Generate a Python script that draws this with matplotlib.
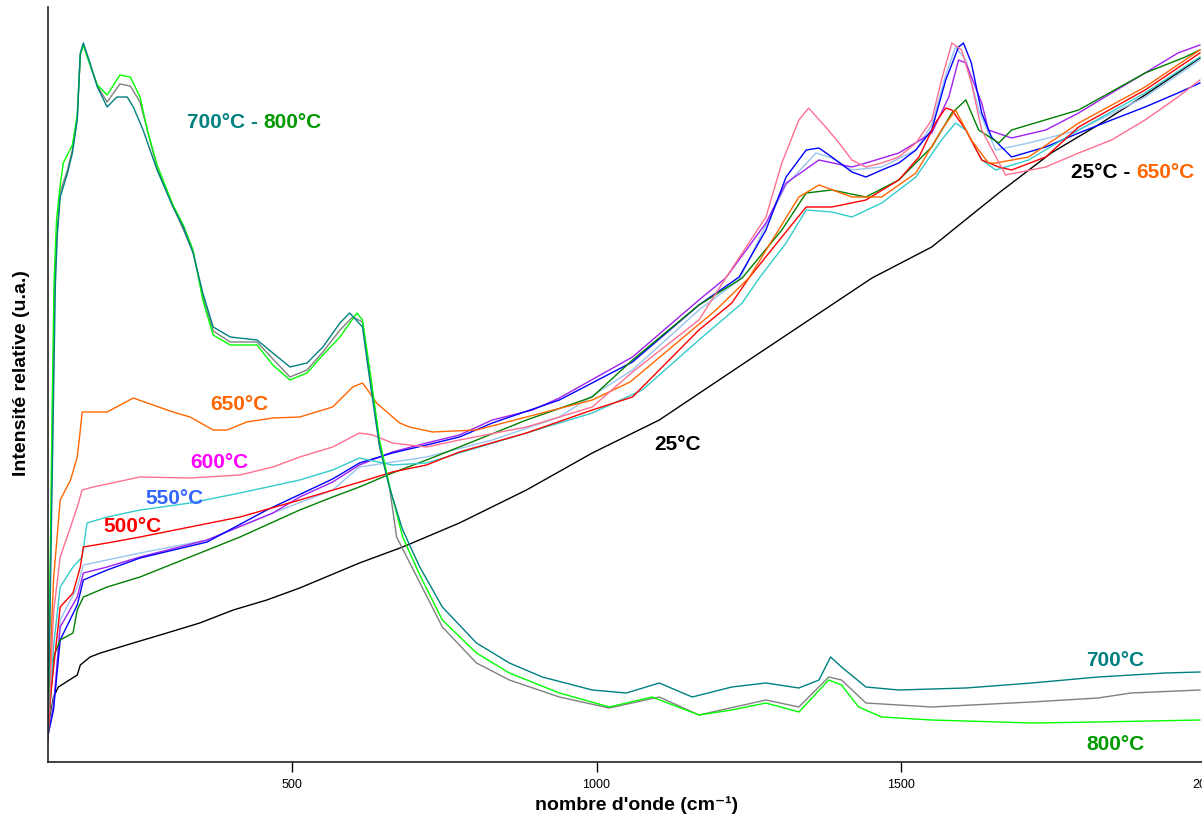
import matplotlib
matplotlib.use("Agg")
import matplotlib.pyplot as plt

plt.rcParams['font.family'] = ['Liberation Sans', 'DejaVu Sans']

# ---------------- data (wavenumber cm-1, relative intensity a.u.) ----------------
wn_25 = [100,109,117,148,153,169,186,240,295,349,404,459,513,611,682,775,885,993,1103,1250,1452,1550,1660,1746,1823,1900,1990]
I_25 = [32,65,75,87,97,105,109,119,129,139,152,162,174,199,215,239,272,309,342,402,484,515,569,609,637,667,704]

wn_lblue = [100,112,120,148,158,251,361,469,567,611,721,829,939,1059,1168,1234,1278,1311,1360,1386,1419,1468,1524,1550,1573,1589,1606,1627,1655,1709,1791,1900,1990]
I_lblue = [27,72,142,175,197,209,222,249,272,295,305,322,345,392,452,482,537,577,609,604,592,595,612,637,687,715,702,652,612,619,632,665,702]

wn_purple = [100,109,120,148,158,197,251,361,469,513,567,611,665,721,775,829,895,939,1059,1168,1212,1278,1311,1365,1419,1442,1496,1550,1578,1594,1606,1632,1643,1681,1737,1791,1845,1900,1954,1990]
I_purple = [27,55,135,165,189,195,205,222,249,265,280,297,310,319,327,342,352,364,405,462,484,539,579,602,595,599,609,629,665,702,699,659,632,624,632,649,669,689,709,717]

wn_blue = [100,109,120,148,158,197,251,361,459,567,611,665,721,775,829,939,1059,1168,1234,1278,1311,1344,1365,1386,1419,1442,1468,1496,1524,1550,1573,1594,1602,1615,1632,1648,1681,1737,1791,1845,1900,1954,1990]
I_blue = [27,52,122,157,182,192,204,220,252,283,299,309,317,325,339,362,400,457,485,532,585,612,614,605,590,585,592,599,612,632,682,715,719,699,649,625,605,615,629,642,655,669,679]

wn_dgreen = [100,109,120,141,148,158,197,251,333,415,513,567,611,665,721,775,885,993,1059,1168,1239,1304,1344,1386,1442,1496,1550,1583,1606,1627,1660,1681,1791,1900,1966,1990]
I_dgreen = [27,105,122,129,152,165,175,185,205,225,252,265,275,289,302,315,342,365,402,457,484,532,569,572,565,582,615,649,662,632,619,632,652,689,705,712]

wn_cyan = [100,109,120,141,156,164,197,251,333,415,513,567,611,665,721,775,885,993,1075,1168,1239,1267,1311,1344,1386,1419,1468,1524,1566,1589,1606,1632,1655,1709,1791,1900,1990]
I_cyan = [22,115,175,195,205,239,245,252,259,269,282,292,304,297,299,309,329,349,372,422,459,484,519,552,550,545,559,585,622,639,632,602,592,602,632,669,705]

wn_red = [100,104,120,141,153,158,197,251,333,415,513,623,665,721,775,885,993,1059,1168,1222,1250,1304,1344,1386,1442,1496,1529,1556,1573,1583,1606,1632,1660,1681,1737,1791,1900,1990]
I_red = [22,65,155,169,195,215,219,225,235,245,262,282,290,297,310,329,352,365,432,459,484,525,555,555,562,582,605,639,654,652,632,602,595,592,605,635,672,709]

wn_650 = [100,109,120,137,148,153,156,197,240,263,305,333,371,394,426,469,513,567,600,616,628,639,677,693,731,803,885,993,1055,1196,1250,1332,1365,1419,1468,1524,1566,1589,1615,1643,1655,1709,1791,1900,1990]
I_650 = [42,182,262,282,305,332,350,350,364,359,350,345,332,332,340,344,345,355,375,379,369,359,339,335,330,332,345,362,380,452,484,565,577,565,565,589,632,652,622,599,599,605,639,675,712]

wn_pink = [100,109,120,137,148,156,174,251,333,415,469,513,567,611,633,665,721,775,885,993,1059,1168,1212,1278,1304,1332,1348,1376,1398,1419,1442,1468,1496,1524,1550,1566,1583,1599,1615,1632,1671,1737,1791,1845,1900,1954,1990]
I_pink = [27,149,205,235,255,272,275,285,284,287,295,305,315,329,327,319,315,322,335,355,390,442,484,545,599,642,654,635,619,602,595,599,605,619,642,682,719,712,679,632,587,595,609,622,642,665,682]

wn_gray = [100,108,111,115,120,132,140,148,153,158,169,181,197,218,235,251,279,305,338,354,371,399,443,469,497,525,551,579,600,616,628,644,660,672,747,803,857,939,1021,1103,1168,1278,1332,1381,1402,1442,1550,1714,1823,1877,1990]
I_gray = [27,362,478,530,570,592,612,644,707,717,697,676,660,678,676,660,594,556,510,466,431,420,420,403,385,392,410,432,445,440,388,318,276,225,135,99,82,65,54,65,47,62,55,85,82,59,55,60,64,69,72]

wn_800 = [100,107,110,114,120,125,140,148,153,158,169,181,197,218,235,251,263,279,305,322,338,354,371,399,443,469,497,525,551,579,607,616,628,644,660,682,710,747,803,857,939,1021,1091,1168,1222,1278,1332,1381,1402,1430,1468,1550,1714,1823,1990]
I_800 = [27,362,482,542,577,599,617,647,707,717,697,677,667,687,685,665,632,597,557,537,512,462,427,417,417,397,382,389,407,425,449,442,392,322,277,225,187,142,109,89,69,55,65,47,52,59,50,82,77,55,45,42,39,40,42]

wn_700 = [100,109,112,115,120,132,140,148,153,158,169,181,197,213,230,240,256,279,305,322,338,354,371,399,443,469,497,525,551,579,595,616,628,644,660,682,710,747,803,857,911,993,1049,1103,1157,1222,1278,1332,1365,1384,1402,1442,1496,1606,1714,1823,1933,1990]
I_700 = [27,362,475,525,565,589,609,642,709,719,699,675,655,665,665,655,632,592,555,535,509,469,435,425,422,409,395,399,415,439,449,435,382,315,275,232,195,155,119,99,85,72,69,79,65,75,79,74,82,105,95,75,72,74,79,85,89,90]

x_ticks = [500, 1000, 1500, 2000]

series = [
    (wn_25, I_25, '#000000'),
    (wn_lblue, I_lblue, '#99c4f0'),
    (wn_purple, I_purple, '#a020f0'),
    (wn_blue, I_blue, '#0000ff'),
    (wn_dgreen, I_dgreen, '#008000'),
    (wn_cyan, I_cyan, '#33cccc'),
    (wn_red, I_red, '#ff0000'),
    (wn_650, I_650, '#ff6600'),
    (wn_pink, I_pink, '#ff6f91'),
    (wn_gray, I_gray, '#808080'),
    (wn_800, I_800, '#00ff00'),
    (wn_700, I_700, '#008080'),
]

fig = plt.figure(figsize=(12.02, 8.16), dpi=100)
ax = fig.add_axes([48/1202, 54/816, 1158/1202, 755/816])

for wn, I, c in series:
    ax.plot(wn, I, color=c, lw=1.0)

ax.set_xlim(100, 2000)
ax.set_ylim(0, 755)
ax.set_xticks(x_ticks)
ax.set_xticklabels([str(t) for t in x_ticks], fontsize=9)
ax.tick_params(axis='x', length=7, width=1, pad=5, direction='out')
ax.set_yticks([])
for s in ['top', 'right']:
    ax.spines[s].set_visible(False)
for s in ['left', 'bottom']:
    ax.spines[s].set_linewidth(1.2)
    ax.spines[s].set_color('#222222')

ax.set_xlabel("nombre d'onde (cm⁻¹)", fontsize=14, fontweight='bold')
ax.xaxis.label.set_va('center')
ax.xaxis.set_label_coords(0.5086, -0.0565)
ax.set_ylabel("Intensité relative (u.a.)", fontsize=14, fontweight='bold')
ax.yaxis.label.set_va('center')
ax.yaxis.set_label_coords(-0.0225, 0.515)

fs = 15
kw = dict(fontsize=fs, fontweight='bold', va='center', ha='left')
t1 = ax.text(328, 639, "700°C - ", color='#008080', **kw)
ax.annotate("800°C", xy=(1, 0.5), xycoords=t1, color='#009900', **kw)
ax.text(366, 358, "650°C", color='#ff6600', **kw)
ax.text(333, 299, "600°C", color='#ff00ff', **kw)
ax.text(260, 264, "550°C", color='#3366ff', **kw)
ax.text(191, 236, "500°C", color='#ff0000', **kw)
ax.text(1095, 318, "25°C", color='#000000', **kw)
t2 = ax.text(1779, 590, "25°C - ", color='#000000', **kw)
ax.annotate("650°C", xy=(1, 0.5), xycoords=t2, color='#ff6600', **kw)
ax.text(1803, 102, "700°C", color='#008080', **kw)
ax.text(1803, 17, "800°C", color='#009900', **kw)

fig.savefig("out.png", dpi=100)
